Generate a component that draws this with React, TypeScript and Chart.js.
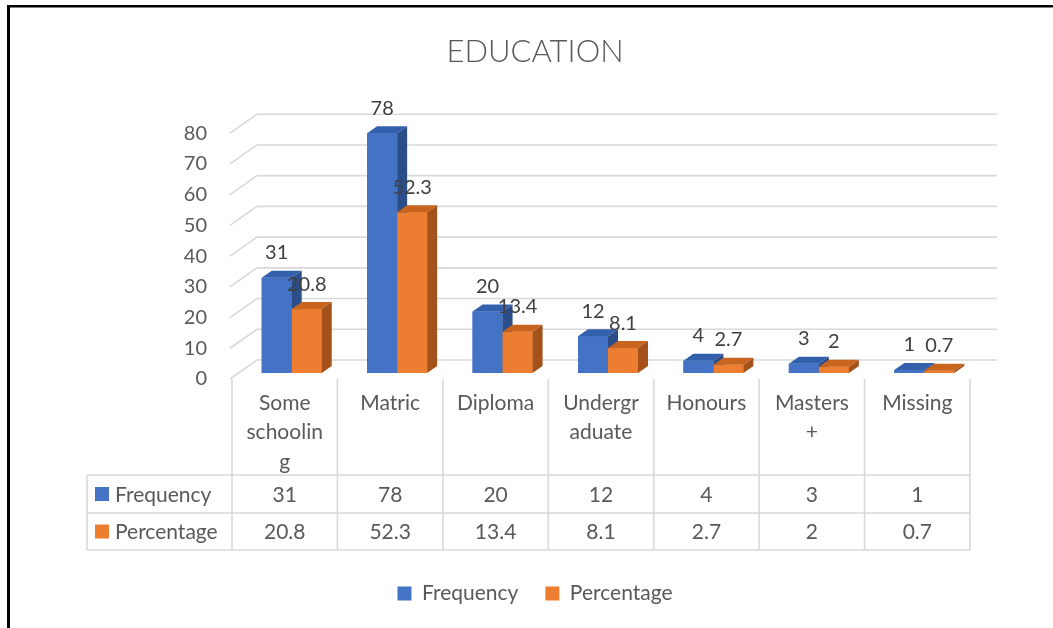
import React, { useEffect, useRef } from "react";
import { Chart, registerables } from "chart.js";

Chart.register(...registerables);

// ---------- data ----------
const chartTitle = "EDUCATION";
const categories: string[][] = [
  ["Some", "schoolin", "g"],
  ["Matric"],
  ["Diploma"],
  ["Undergr", "aduate"],
  ["Honours"],
  ["Masters", "+"],
  ["Missing"],
];
const seriesNames = ["Frequency", "Percentage"];
const frequency = [31, 78, 20, 12, 4, 3, 1];
const percentage = [20.8, 52.3, 13.4, 8.1, 2.7, 2, 0.7];
const frequencyText = ["31", "78", "20", "12", "4", "3", "1"];
const percentageText = ["20.8", "52.3", "13.4", "8.1", "2.7", "2", "0.7"];
const yMin = 0;
const yMax = 80;
const yStep = 10;

// ---------- style ----------
const FONT = "Lato, 'Open Sans', 'DejaVu Sans', sans-serif";
const TEXT = "#595959";
const LABEL = "#404040";
const GRID = "#d9d9d9";
const faces = [
  { front: "#4472C4", top: "#3360ad", side: "#2b4d8a" },
  { front: "#ED7D31", top: "#c9641f", side: "#a4521a" },
];
const BAR_DX = 10;
const BAR_DY = -7;
const WALL_DX = 27;
const WALL_DY = -19;
const COL_SHIFT = 7;

const borderPlugin = {
  id: "pageBorder",
  beforeDraw(chart: any) {
    const { ctx, width, height } = chart;
    ctx.save();
    ctx.fillStyle = "#ffffff";
    ctx.fillRect(0, 0, width, height);
    ctx.fillStyle = "#000000";
    ctx.fillRect(7, 5, width - 7, 2.5);
    ctx.fillRect(7, 5, 3, height - 5);
    ctx.restore();
  },
};

const gridPlugin = {
  id: "grid3d",
  beforeDatasetsDraw(chart: any) {
    const { ctx, chartArea } = chart;
    const ys = chart.scales.y;
    ctx.save();
    ctx.strokeStyle = GRID;
    ctx.lineWidth = 1.6;
    for (let v = yMin; v <= yMax; v += yStep) {
      const yf = ys.getPixelForValue(v) + 6;
      const xf = chartArea.left - 9;
      ctx.beginPath();
      ctx.moveTo(xf, yf);
      ctx.lineTo(xf + WALL_DX, yf + WALL_DY);
      ctx.lineTo(chartArea.right + 20, yf + WALL_DY);
      ctx.stroke();
    }
    ctx.restore();
  },
};

const barsPlugin = {
  id: "bars3d",
  afterDatasetsDraw(chart: any) {
    const { ctx } = chart;
    const n = chart.data.labels.length;
    ctx.save();
    for (let i = 0; i < n; i++) {
      chart.data.datasets.forEach((ds: any, d: number) => {
        const meta = chart.getDatasetMeta(d);
        const el = meta.data[i];
        if (!el) return;
        const { x, y, base, width } = el.getProps(["x", "y", "base", "width"], true);
        const l = x - width / 2;
        const r = x + width / 2;
        const f = faces[d];
        ctx.fillStyle = f.front;
        ctx.fillRect(l, y, width, base - y);
        ctx.fillStyle = f.top;
        ctx.beginPath();
        ctx.moveTo(l, y);
        ctx.lineTo(l + BAR_DX, y + BAR_DY);
        ctx.lineTo(r + BAR_DX, y + BAR_DY);
        ctx.lineTo(r, y);
        ctx.closePath();
        ctx.fill();
        ctx.fillStyle = f.side;
        ctx.beginPath();
        ctx.moveTo(r, y);
        ctx.lineTo(r + BAR_DX, y + BAR_DY);
        ctx.lineTo(r + BAR_DX, base + BAR_DY);
        ctx.lineTo(r, base);
        ctx.closePath();
        ctx.fill();
      });
    }
    ctx.fillStyle = LABEL;
    ctx.font = `20px ${FONT}`;
    ctx.textAlign = "center";
    ctx.textBaseline = "middle";
    chart.data.datasets.forEach((ds: any, d: number) => {
      const meta = chart.getDatasetMeta(d);
      meta.data.forEach((el: any, i: number) => {
        const { x, y } = el.getProps(["x", "y"], true);
        ctx.fillText(ds.valueText[i], x, y - 25);
      });
    });
    ctx.restore();
  },
};

const tablePlugin = {
  id: "dataTable",
  afterDraw(chart: any) {
    const { ctx, chartArea } = chart;
    const xs = chart.scales.x;
    const n = chart.data.labels.length;
    const band = (chartArea.right - chartArea.left) / n;
    const left0 = xs.getPixelForValue(0) - band / 2 - COL_SHIFT;
    const right0 = left0 + band * n;
    const top = chartArea.bottom + 6;
    const row1 = chartArea.bottom + 102;
    const row2 = row1 + 38;
    const row3 = row2 + 37;
    const labelLeft = 87;
    ctx.save();
    ctx.strokeStyle = GRID;
    ctx.lineWidth = 1.6;
    ctx.beginPath();
    for (let i = 0; i <= n; i++) {
      const x = left0 + band * i;
      ctx.moveTo(x, top);
      ctx.lineTo(x, row3);
    }
    ctx.moveTo(labelLeft, row1);
    ctx.lineTo(labelLeft, row3);
    [row1, row2, row3].forEach((yy) => {
      ctx.moveTo(labelLeft, yy);
      ctx.lineTo(right0, yy);
    });
    ctx.stroke();

    ctx.fillStyle = TEXT;
    ctx.font = `21px ${FONT}`;
    ctx.textAlign = "center";
    ctx.textBaseline = "middle";
    const labels = chart.data.labels as string[][];
    labels.forEach((lines, i) => {
      const cx = left0 + band * (i + 0.5);
      lines.forEach((t, k) => ctx.fillText(t, cx, top + 24 + k * 29.5));
    });
    chart.data.datasets.forEach((ds: any, d: number) => {
      const yy = d === 0 ? (row1 + row2) / 2 : (row2 + row3) / 2;
      ds.valueText.forEach((t: string, i: number) => {
        ctx.fillText(t, left0 + band * (i + 0.5), yy + 1);
      });
      ctx.fillStyle = faces[d].front;
      ctx.fillRect(labelLeft + 8, yy - 7, 14, 14);
      ctx.fillStyle = TEXT;
      ctx.textAlign = "left";
      ctx.fillText(ds.label, labelLeft + 28, yy + 1);
      ctx.textAlign = "center";
    });
    ctx.restore();
  },
};

export default function App() {
  const ref = useRef<HTMLCanvasElement | null>(null);
  useEffect(() => {
    if (!ref.current) return;
    const chart = new Chart(ref.current, {
      type: "bar",
      data: {
        labels: categories,
        datasets: [
          {
            label: seriesNames[0],
            data: frequency,
            valueText: frequencyText,
            backgroundColor: faces[0].front,
            borderWidth: 0,
            categoryPercentage: 60 / 105.4,
            barPercentage: 1,
          } as any,
          {
            label: seriesNames[1],
            data: percentage,
            valueText: percentageText,
            backgroundColor: faces[1].front,
            borderWidth: 0,
            categoryPercentage: 60 / 105.4,
            barPercentage: 1,
          } as any,
        ],
      },
      options: {
        responsive: false,
        animation: false,
        devicePixelRatio: 1,
        layout: { padding: { left: 93, right: 76, top: 10, bottom: 14 } },
        plugins: {
          title: {
            display: true,
            text: chartTitle,
            color: TEXT,
            font: { family: FONT, size: 31, weight: "300" as any },
            padding: { top: 23, bottom: 57 },
          },
          legend: {
            position: "bottom",
            labels: {
              color: TEXT,
              font: { family: FONT, size: 21 },
              boxWidth: 14,
              boxHeight: 14,
              padding: 27,
            },
          },
          tooltip: { enabled: false },
        },
        scales: {
          x: {
            grid: { display: false, drawTicks: false },
            border: { display: false },
            ticks: { display: false },
            afterFit(scale: any) {
              scale.height = 183;
            },
          },
          y: {
            min: yMin,
            max: yMax,
            grid: { display: false, drawTicks: false },
            border: { display: false },
            ticks: {
              stepSize: yStep,
              color: TEXT,
              font: { family: FONT, size: 20 },
              padding: 32,
              labelOffset: 6,
            },
            afterFit(scale: any) {
              scale.width = 146;
            },
          },
        },
      },
      plugins: [borderPlugin, gridPlugin, barsPlugin, tablePlugin],
    });
    return () => chart.destroy();
  }, []);
  return (
    <div style={{ position: "fixed", left: 0, top: 0, width: 1053, height: 628 }}>
      <canvas ref={ref} width={1053} height={628} />
    </div>
  );
}
